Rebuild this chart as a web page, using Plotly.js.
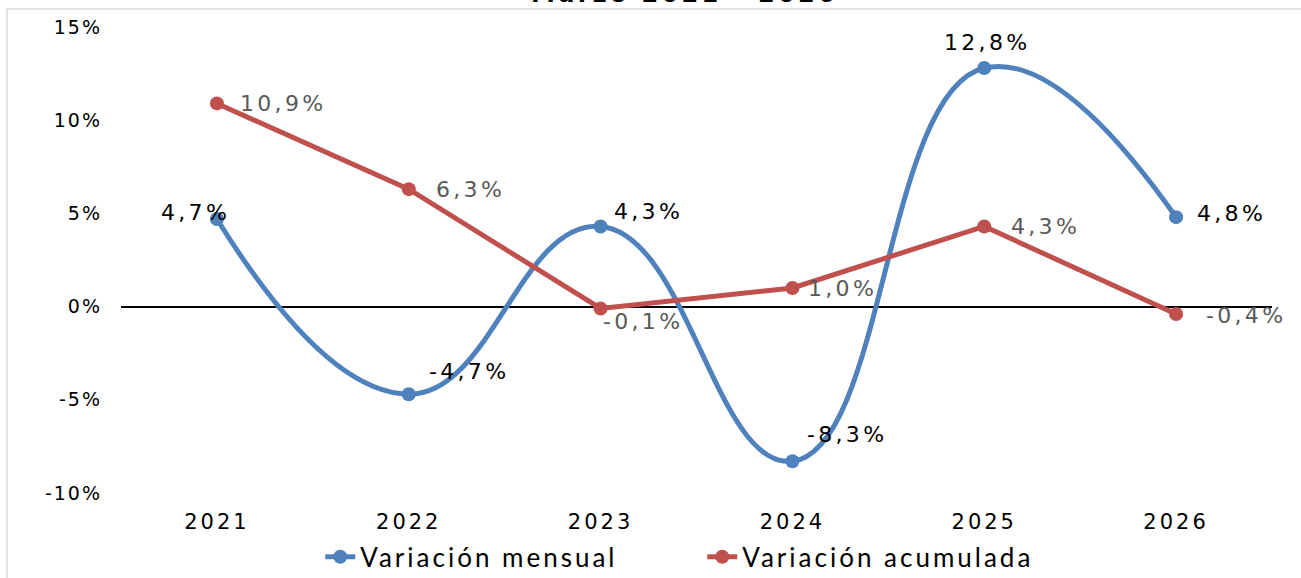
<!DOCTYPE html>
<html>
<head>
<meta charset="utf-8">
<script src="https://cdn.plot.ly/plotly-3.0.1.min.js"></script>
<style>
  html, body { margin: 0; padding: 0; background: #ffffff; }
  #chart { width: 1301px; height: 578px; }
  .xtick text { letter-spacing: 3px; }
  .ytick text { letter-spacing: 2px; }
  text.annotation-text { letter-spacing: 3.3px; }
  text.legendtext { letter-spacing: 3px; }
</style>
</head>
<body>
<div id="chart"></div>
<script>
const years = ['2021', '2022', '2023', '2024', '2025', '2026'];
const variacionMensual = [4.7, -4.7, 4.3, -8.3, 12.8, 4.8];
const variacionAcumulada = [10.9, 6.3, -0.1, 1.0, 4.3, -0.4];
const yTicks = [-10, -5, 0, 5, 10, 15];
const yTickLabels = ['-10%', '-5%', '0%', '5%', '10%', '15%'];

const fmt = v => v.toFixed(1).replace('.', ',') + '%';

const blue = '#4F81BD';
const red = '#C0504D';
const labelFont = 'DejaVu Sans, sans-serif';

// label offsets (px) for each point, as in the original chart
const mensualShift = [[-21, 6], [60, 23], [48, 15], [55, 27], [3, 26], [55, 4]];
const acumuladaShift = [[66, 0], [62, 0], [42, -13], [50, -1], [61, 0], [70, -1]];

const traces = [
    {
        x: years,
        y: variacionMensual,
        name: 'Variación mensual',
        type: 'scatter',
        mode: 'lines+markers',
        line: { color: blue, width: 5, shape: 'spline', smoothing: 1.3 },
        marker: { color: blue, size: 14 },
        hoverinfo: 'skip'
    },
    {
        x: years,
        y: variacionAcumulada,
        name: 'Variación acumulada',
        type: 'scatter',
        mode: 'lines+markers',
        line: { color: red, width: 5 },
        marker: { color: red, size: 14 },
        hoverinfo: 'skip'
    }
];

const annotations = [];
years.forEach((yr, i) => {
    // category index, so '2021' is not read as a number
    annotations.push({
        x: i, y: variacionMensual[i], text: fmt(variacionMensual[i]),
        showarrow: false, xshift: mensualShift[i][0], yshift: mensualShift[i][1],
        font: { family: labelFont, size: 22, color: '#000000' }
    });
    annotations.push({
        x: i, y: variacionAcumulada[i], text: fmt(variacionAcumulada[i]),
        showarrow: false, xshift: acumuladaShift[i][0], yshift: acumuladaShift[i][1],
        font: { family: labelFont, size: 22, color: '#595959' }
    });
});

// title, mostly cut off at the top edge of the picture
annotations.push({
    xref: 'paper', yref: 'paper', x: 0.49, y: 1, yanchor: 'bottom', yshift: 17,
    text: '<b>Marzo 2021 - 2026</b>', showarrow: false,
    font: { family: labelFont, size: 24, color: '#000000' }
});

const layout = {
    width: 1301,
    height: 578,
    margin: { l: 121, r: 29, t: 27, b: 85, autoexpand: false },
    paper_bgcolor: '#ffffff',
    plot_bgcolor: '#ffffff',
    showlegend: true,
    legend: {
        orientation: 'h',
        x: 0.505,
        xanchor: 'center',
        y: -0.137,
        yanchor: 'middle',
        bgcolor: 'rgba(0,0,0,0)',
        font: { family: 'Lato, sans-serif', size: 26, color: '#000000' },
        entrywidth: 337,
        entrywidthmode: 'pixels',
        tracegroupgap: 0
    },
    xaxis: {
        type: 'category',
        range: [-0.5, 5.5],
        showgrid: false,
        showline: false,
        zeroline: false,
        ticks: '',
        ticklabelstandoff: 14,
        tickfont: { family: labelFont, size: 21, color: '#000000' }
    },
    yaxis: {
        range: [-10, 15],
        tickvals: yTicks,
        ticktext: yTickLabels,
        showgrid: false,
        showline: false,
        zeroline: true,
        zerolinecolor: '#000000',
        zerolinewidth: 2,
        ticks: '',
        ticklabelstandoff: 18,
        tickfont: { family: labelFont, size: 19, color: '#000000' }
    },
    annotations: annotations,
    shapes: [
        {
            type: 'rect', xref: 'paper', yref: 'paper',
            x0: (7 - 121) / 1151, x1: (1310 - 121) / 1151,
            y0: (493 - 590) / 466, y1: (493 - 9) / 466,
            line: { color: '#d9d9d9', width: 1.5 }
        }
    ]
};

Plotly.newPlot('chart', traces, layout, { displayModeBar: false, staticPlot: true });
</script>
</body>
</html>
